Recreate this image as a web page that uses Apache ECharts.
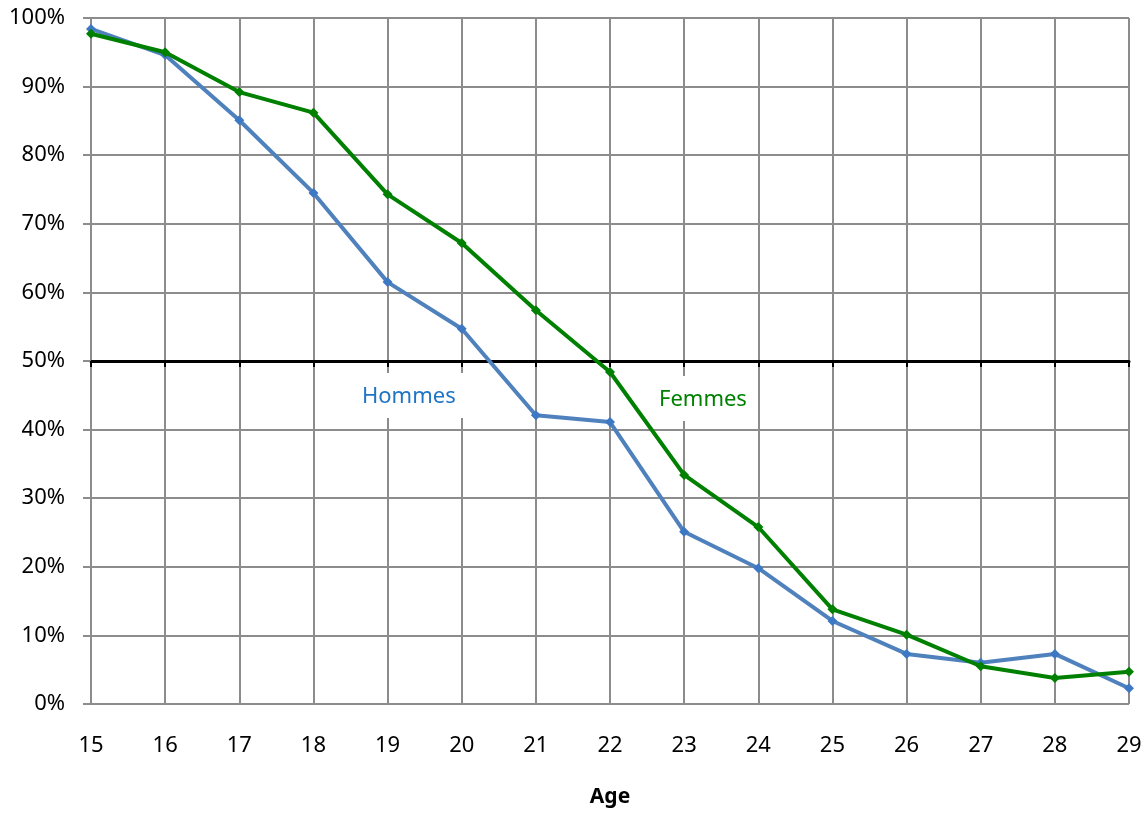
<!DOCTYPE html>
<html>
<head>
<meta charset="utf-8">
<script src="https://cdn.jsdelivr.net/npm/echarts@6/dist/echarts.min.js"></script>
<style>html,body{margin:0;padding:0;background:#fff}#c{width:1148px;height:816px}</style>
</head>
<body>
<div id="c"></div>
<script>
var ages = ['15','16','17','18','19','20','21','22','23','24','25','26','27','28','29'];
var hommes = [98.4, 94.6, 85.1, 74.5, 61.5, 54.7, 42.1, 41.1, 25.1, 19.8, 12.1, 7.3, 6.0, 7.3, 2.3];
var femmes = [97.7, 95.0, 89.2, 86.2, 74.3, 67.2, 57.4, 48.4, 33.4, 25.8, 13.8, 10.1, 5.5, 3.8, 4.7];
var yTicks = [0, 10, 20, 30, 40, 50, 60, 70, 80, 90, 100];

var FONT = 'Noto Sans';
var GRID = '#8c8c8c';
var chart = echarts.init(document.getElementById('c'));
chart.setOption({
  animation: false,
  textStyle: { fontFamily: FONT },
  grid: { left: 91, right: 19, top: 18, bottom: 112 },
  xAxis: [{
    type: 'category',
    data: ages,
    boundaryGap: false,
    axisLine: { show: false },
    axisTick: { show: false },
    axisLabel: { color: '#000', fontSize: 22, margin: 31, fontFamily: FONT },
    splitLine: { show: true, lineStyle: { color: GRID, width: 2 } },
    name: 'Age',
    nameLocation: 'middle',
    nameGap: 83,
    nameTextStyle: { fontWeight: 'bold', fontSize: 21, color: '#000', fontFamily: FONT }
  }, {
    type: 'category',
    data: ages,
    boundaryGap: false,
    position: 'bottom',
    offset: -343,
    axisLine: { show: true, lineStyle: { color: '#000', width: 3 } },
    axisTick: { show: true, inside: false, length: 6, lineStyle: { color: '#000', width: 2 } },
    axisLabel: { show: false },
    splitLine: { show: false }
  }],
  yAxis: {
    type: 'value',
    min: yTicks[0],
    max: yTicks[yTicks.length - 1],
    interval: 10,
    axisLine: { show: false },
    axisTick: { show: true, length: 8, lineStyle: { color: GRID, width: 2 } },
    axisLabel: { color: '#000', fontSize: 22, margin: 26, formatter: '{value}%', fontFamily: FONT },
    splitLine: { show: true, lineStyle: { color: GRID, width: 2 } }
  },
  series: [{
    name: 'Hommes',
    type: 'line',
    data: hommes,
    symbol: 'diamond',
    symbolSize: 10,
    lineStyle: { color: '#4f81bd', width: 4 },
    itemStyle: { color: '#3d78c4' },
    z: 3
  }, {
    name: 'Femmes',
    type: 'line',
    data: femmes,
    symbol: 'diamond',
    symbolSize: 10,
    lineStyle: { color: '#008000', width: 4 },
    itemStyle: { color: '#008000' },
    z: 4
  }],
  graphic: [{
    type: 'text',
    left: 350, top: 373,
    z: 1,
    style: { text: 'Hommes', fill: '#1f74c4', font: '22px "Noto Sans"', backgroundColor: '#fff', padding: [13, 12, 10, 12] }
  }, {
    type: 'text',
    left: 647, top: 376,
    z: 1,
    style: { text: 'Femmes', fill: '#008000', font: '22px "Noto Sans"', backgroundColor: '#fff', padding: [13, 8, 10, 12] }
  }]
});
</script>
</body>
</html>
